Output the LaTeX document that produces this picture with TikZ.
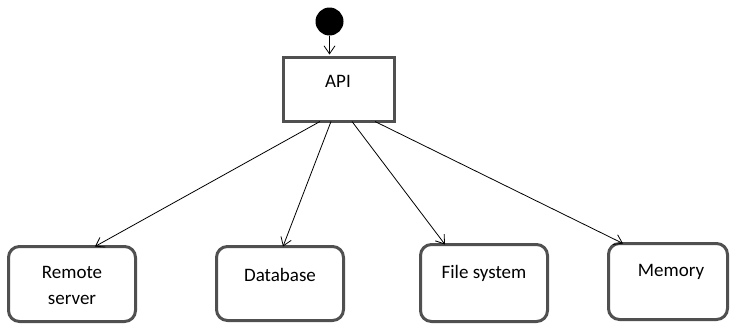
\documentclass[tikz,border=0pt]{standalone}
\usepackage{fontspec}
\setmainfont{Carlito}
\usetikzlibrary{arrows.meta}
\definecolor{boxgray}{HTML}{505050}
\tikzset{
  apibox/.style={draw=boxgray, line width=3pt, minimum width=111pt, minimum height=64pt, inner sep=0pt},
  storebox/.style={draw=boxgray, line width=3pt, rounded corners=11pt, inner sep=0pt},
  lbl/.style={font=\fontsize{19}{26}\selectfont, align=center, inner sep=0pt},
  arr/.style={draw=black, line width=0.8pt, -{Straight Barb[length=8pt,width=11pt,line width=0.8pt]}},
  startdot/.style={circle, fill=black, minimum size=28pt, inner sep=0pt}
}
\begin{document}
\begin{tikzpicture}[x=1pt,y=-1pt]
\useasboundingbox (0,0) rectangle (731,324);

% initial state and the API box
\node[startdot] (start) at (329.5,21.5) {};
\node[apibox] (api) at (339,89.5) {};
\node[lbl] (apit) at (338,81) {API};

% storage targets
\node[storebox, minimum width=127pt, minimum height=75pt] (remote) at (72,284) {};
\node[storebox, minimum width=127pt, minimum height=74pt] (db) at (280,283.5) {};
\node[storebox, minimum width=127pt, minimum height=77pt] (fs) at (484,283) {};
\node[storebox, minimum width=119pt, minimum height=76pt] (mem) at (668,281.5) {};

\node[lbl] (remotet) at (72,285) {Remote\\server};
\node[lbl] (dbt) at (280,275) {Database};
\node[lbl] (fst) at (484,273) {File system};
\node[lbl] (memt) at (671,272) {Memory};

% connectors
\draw[arr] (start.south) -- ([yshift=1.5pt]start.south |- api.north);
\draw[arr] ([xshift=-19pt,yshift=1.5pt]api.south) -- ([xshift=23pt,yshift=-1.5pt]remote.north);
\draw[arr] ([xshift=-8pt,yshift=1.5pt]api.south) -- ([xshift=3pt,yshift=-1.5pt]db.north);
\draw[arr] ([xshift=13pt,yshift=1.5pt]api.south) -- ([xshift=-39pt,yshift=-1.5pt]fs.north);
\draw[arr] ([xshift=36pt,yshift=1.5pt]api.south) -- ([xshift=-45pt,yshift=-1.5pt]mem.north);
\end{tikzpicture}
\end{document}
